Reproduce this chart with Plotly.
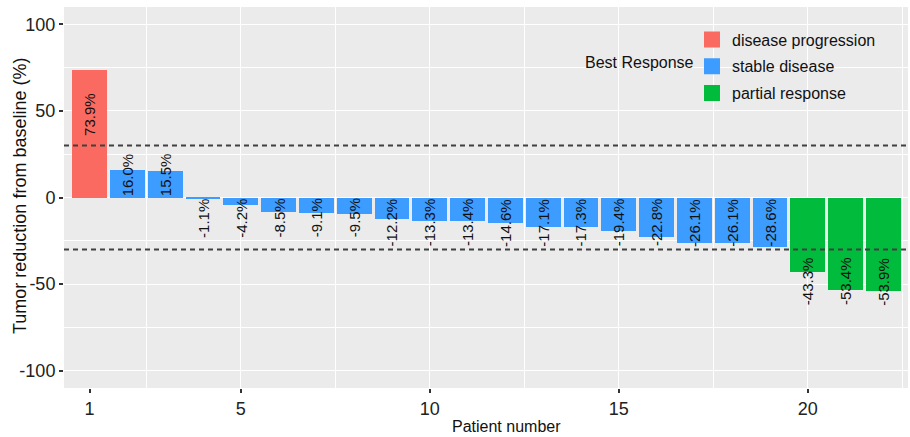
import plotly.graph_objects as go

patients = list(range(1, 23))
values = [73.9, 16.0, 15.5, -1.1, -4.2, -8.5, -9.1, -9.5, -12.2, -13.3, -13.4,
          -14.6, -17.1, -17.3, -19.4, -22.8, -26.1, -26.1, -28.6, -43.3, -53.4, -53.9]
responses = (["disease progression"] + ["stable disease"] * 18 + ["partial response"] * 3)
labels = [f"{v:.1f}%" for v in values]
categories = ["disease progression", "stable disease", "partial response"]
colors = {"disease progression": "#FB6A61", "stable disease": "#3D9CFF",
          "partial response": "#00BB3C"}
x_ticks = [1, 5, 10, 15, 20]
x_grid = [2.5, 5, 7.5, 10, 12.5, 15, 17.5, 20, 22.5]
y_ticks = [-100, -50, 0, 50, 100]
y_ticktext = ["-100", "-50", "0", "50", "100"]
y_minor = [-75, -25, 25, 75]
thresholds = [30, -30]

FONT = "Liberation Sans, Arial, sans-serif"
XR = [0.325, 22.65]
YR = [-110, 110]

fig = go.Figure()
for cat in categories:
    xs = [p for p, r in zip(patients, responses) if r == cat]
    ys = [v for v, r in zip(values, responses) if r == cat]
    fig.add_trace(go.Bar(x=xs, y=ys, name=cat, marker_color=colors[cat],
                         marker_line_width=0, width=0.92, showlegend=False))
# legend keys
for cat in categories:
    fig.add_trace(go.Scatter(x=[None], y=[None], mode="markers", name=cat,
                             legendgroup=cat,
                             marker=dict(symbol="square", size=22, color=colors[cat])))

for t in thresholds:
    fig.add_hline(y=t, line=dict(color="#404040", width=2, dash="5px,4px"))

# value labels, rotated
for p, v, r, lab in zip(patients, values, responses, labels):
    if r == "stable disease":
        anchor_y = 0
    else:
        anchor_y = 35 if v > 0 else -34
    fig.add_annotation(x=p, y=anchor_y, xref="x", yref="y", text=lab,
                       showarrow=False, textangle=-90, borderpad=0,
                       yanchor="bottom" if v > 0 else "top",
                       font=dict(family=FONT, size=15, color="#111111"))

fig.add_annotation(x=(507 - 64) / 844, y=0, xref="paper", yref="paper",
                   yshift=-28, yanchor="top", text="Patient number", showarrow=False,
                   font=dict(family=FONT, size=16, color="#111111"))
fig.add_annotation(x=(20 - 64) / 844, y=(388 - 196) / 381, xref="paper", yref="paper",
                   xanchor="center", yanchor="middle", textangle=-90,
                   text="Tumor reduction from baseline (%)", showarrow=False,
                   font=dict(family=FONT, size=18, color="#111111"))
fig.add_annotation(x=(696 - 64) / 844, y=(388 - 62) / 381, xref="paper", yref="paper",
                   xanchor="right", yanchor="middle", text="Best Response",
                   showarrow=False, font=dict(family=FONT, size=16, color="#111111"))

fig.update_layout(
    width=910, height=437,
    margin=dict(l=64, r=2, t=7, b=49),
    paper_bgcolor="white", plot_bgcolor="#EBEBEB",
    barmode="overlay", bargap=0,
    font=dict(family=FONT, color="#111111"),
    showlegend=True,
    legend=dict(x=(692 - 64) / 844, y=(388 - 22.5) / 381, xanchor="left", yanchor="top",
                bgcolor="rgba(0,0,0,0)",
                font=dict(family=FONT, size=16, color="#111111"),
                tracegroupgap=3, itemwidth=30),
    xaxis=dict(range=XR, tickmode="array", tickvals=x_ticks, showgrid=False,
               zeroline=False, automargin=False,
               ticks="outside", ticklen=4, tickwidth=1.5, tickcolor="#333333",
               tickfont=dict(family=FONT, size=18, color="#222222"),
               minor=dict(tickmode="array", tickvals=x_grid, showgrid=True,
                          gridcolor="white", gridwidth=1.3, ticks="inside",
                          ticklen=0, tickcolor="rgba(0,0,0,0)")),
    yaxis=dict(range=YR, tickmode="array", tickvals=y_ticks, ticktext=y_ticktext,
               showgrid=True,
               gridcolor="white", gridwidth=1.3, zeroline=False, automargin=False,
               ticks="outside", ticklen=4, tickwidth=1.5, tickcolor="#333333",
               tickfont=dict(family=FONT, size=18, color="#222222"),
               minor=dict(tickmode="array", tickvals=y_minor,
                          showgrid=True, gridcolor="white", gridwidth=1.3, ticks="")),
)

fig.write_html("out.html", config={"displayModeBar": False},
               post_script="document.body.style.margin='0';document.body.style.padding='0';")
